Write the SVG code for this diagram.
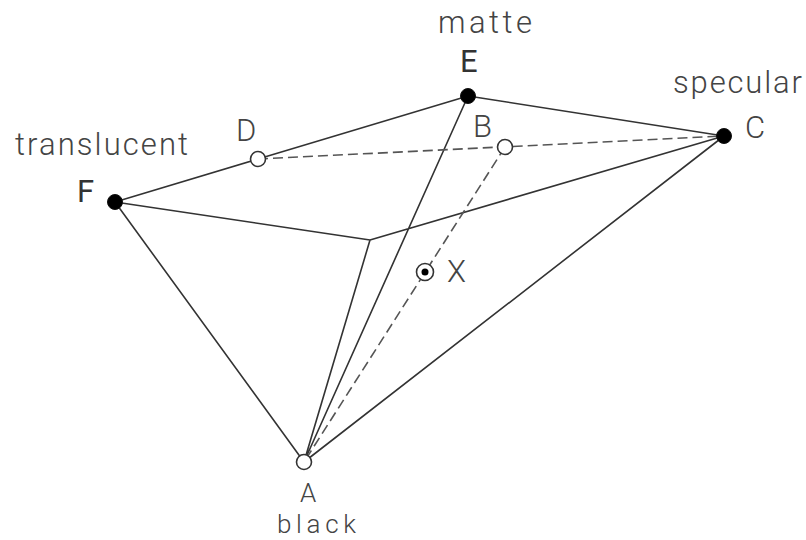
<svg xmlns="http://www.w3.org/2000/svg" width="806" height="540" viewBox="0 0 806 540">
<style>
.l{stroke:#333;stroke-width:1.6;fill:none}
.d{stroke:#555;stroke-width:1.6;fill:none;stroke-dasharray:10 5}
.b{fill:#000;stroke:#111;stroke-width:1}
.w{fill:#fff;stroke:#333;stroke-width:1.6}
text{font-family:Roboto,"Liberation Sans",Arial,sans-serif;font-size:31px;fill:#444;font-weight:300}
.cap{fill:#333;font-weight:400}
.s{font-size:26px}
</style>
<rect width="806" height="540" fill="#fff"/>
<g id="connectors">
<path class="l" d="M115 202L258 159M258 159L468 96M468 96L724 136M115 202L370 240M370 240L724 136M115 202L304 462M370 240L304 462M468 96L304 462M724 136L304 462"/>
<path class="d" d="M258 159L724 136M505 147L304 462"/>
</g>
<g id="node-E"><circle class="b" cx="468" cy="96" r="7.5"/><text class="cap" x="460" y="72">E</text><text x="438" y="33" textLength="94" lengthAdjust="spacing">matte</text></g>
<g id="node-C"><circle class="b" cx="724" cy="136" r="7.5"/><text x="745" y="138">C</text><text x="673" y="93" textLength="129" lengthAdjust="spacing">specular</text></g>
<g id="node-F"><circle class="b" cx="115" cy="202" r="7.5"/><text class="cap" x="77" y="202">F</text><text x="15" y="155" textLength="173" lengthAdjust="spacing">translucent</text></g>
<g id="node-D"><circle class="w" cx="258" cy="159" r="7.5"/><text x="236" y="141">D</text></g>
<g id="node-B"><circle class="w" cx="505" cy="147" r="7.5"/><text x="473" y="137">B</text></g>
<g id="node-X"><circle class="w" cx="425" cy="272" r="8.5" stroke-width="1.3"/><circle cx="425" cy="272" r="3.5" fill="#000"/><text x="447" y="282">X</text></g>
<g id="node-A"><circle class="w" cx="304" cy="462" r="7.5"/><text class="s" x="300" y="502">A</text><text class="s" x="277" y="533" textLength="79" lengthAdjust="spacing">black</text></g>
</svg>
